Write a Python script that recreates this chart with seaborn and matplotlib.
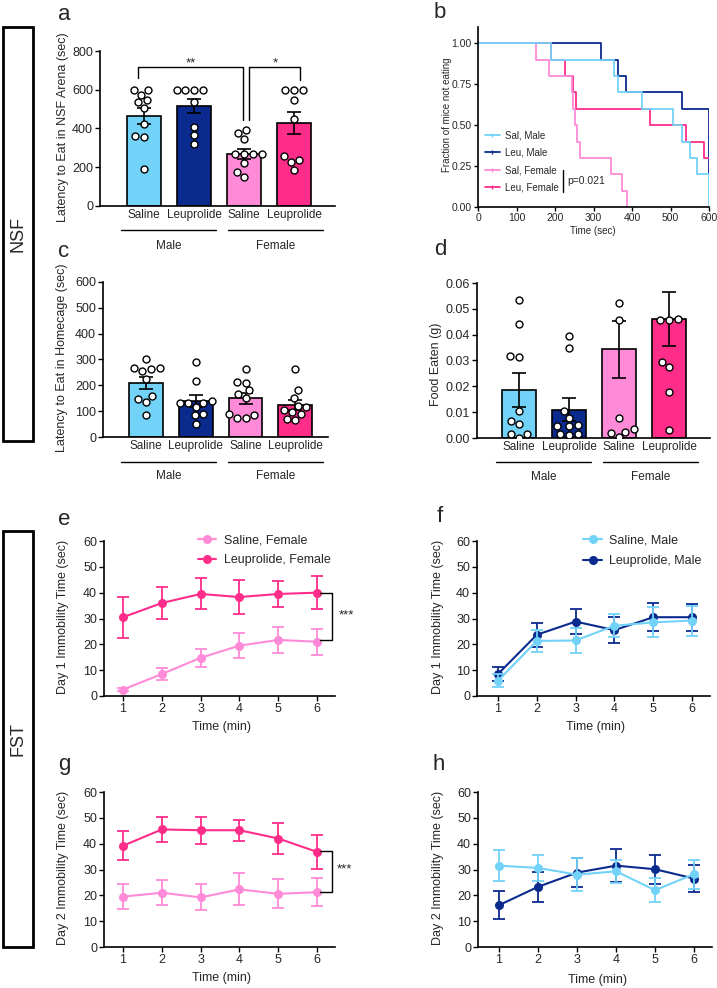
import numpy as np
import pandas as pd
import seaborn as sns
import matplotlib.pyplot as plt
from matplotlib.lines import Line2D
from matplotlib.patches import Rectangle
from matplotlib.ticker import FormatStrFormatter

sns.set_style('ticks')
plt.rcParams['font.family'] = ['Liberation Sans', 'DejaVu Sans']

LBLUE = '#72D2F8'
DBLUE = '#0B2A8E'
PINK = '#FF8AD8'
MAGENTA = '#FF2D8A'

GROUPS = ['SalM', 'LeuM', 'SalF', 'LeuF']
GROUP_COLORS = [LBLUE, DBLUE, PINK, MAGENTA]
BAR_TICKS = ['Saline', 'Leuprolide', 'Saline', 'Leuprolide']

# a - latency to eat in NSF arena
a_means = [465, 518, 270, 428]
a_sem = [43, 36, 25, 56]
a_sal_m = [600, 575, 600, 535, 545, 505, 425, 360, 355, 190]
a_leu_m = [600, 600, 600, 600, 537, 408, 365, 318]
a_sal_f = [390, 377, 348, 267, 267, 267, 267, 222, 175, 150]
a_leu_f = [600, 600, 600, 545, 450, 256, 239, 227, 187]

# b - survival curves (time, fraction not eating)
b_sal_m_t = [0, 190, 352, 363, 427, 507, 531, 550, 570, 600]
b_sal_m_s = [1.0, 0.9, 0.8, 0.7, 0.6, 0.5, 0.4, 0.3, 0.2, 0.0]
b_leu_m_t = [0, 319, 363, 385, 529, 600]
b_leu_m_s = [1.0, 0.9, 0.8, 0.7, 0.6, 0.2]
b_sal_f_t = [0, 151, 184, 243, 248, 252, 258, 264, 345, 373, 388]
b_sal_f_s = [1.0, 0.9, 0.8, 0.7, 0.6, 0.5, 0.4, 0.3, 0.2, 0.1, 0.0]
b_leu_f_t = [0, 190, 226, 248, 254, 447, 539, 586, 600]
b_leu_f_s = [1.0, 0.9, 0.8, 0.7, 0.6, 0.5, 0.4, 0.3, 0.3]

# c - latency to eat in homecage
c_means = [210, 140, 150, 125]
c_sem = [23, 22, 22, 20]
c_sal_m = [300, 268, 262, 268, 255, 226, 148, 135, 158, 87]
c_leu_m = [290, 215, 133, 133, 138, 133, 116, 90, 84, 52]
c_sal_f = [262, 213, 210, 180, 168, 150, 90, 85, 75, 75]
c_leu_f = [265, 180, 150, 120, 115, 105, 95, 90, 70, 65]

# d - food eaten
d_means = [0.0185, 0.011, 0.0343, 0.0462]
d_sem = [0.0065, 0.0045, 0.011, 0.0105]
d_sal_m = [0.0535, 0.044, 0.0318, 0.0313, 0.0105, 0.0065, 0.0055, 0.0015, 0.0015, 0.0001]
d_leu_m = [0.0395, 0.0347, 0.0105, 0.0078, 0.005, 0.0045, 0.0045, 0.0015, 0.0012, 0.0015]
d_sal_f = [0.0522, 0.0458, 0.0078, 0.0035, 0.0025, 0.0018, 0.0003]
d_leu_f = [0.0457, 0.0455, 0.046, 0.0293, 0.0273, 0.018, 0.003]

# e-h - forced swim immobility
minutes = [1, 2, 3, 4, 5, 6]
e_sal_f = [2.5, 8.5, 14.8, 19.5, 21.7, 21.0]
e_sal_f_err = [0.5, 2.3, 3.5, 4.8, 5.0, 5.0]
e_leu_f = [30.5, 36.0, 39.5, 38.3, 39.5, 40.0]
e_leu_f_err = [8.0, 6.3, 6.0, 6.5, 4.9, 6.4]
f_sal_m = [5.9, 21.3, 21.5, 27.2, 28.5, 29.2]
f_sal_m_err = [2.5, 4.3, 4.8, 4.4, 5.8, 5.8]
f_leu_m = [8.5, 23.7, 28.8, 25.5, 30.5, 30.5]
f_leu_m_err = [2.7, 4.6, 4.7, 5.1, 5.5, 5.3]
g_sal_f = [19.5, 21.0, 19.2, 22.3, 20.6, 21.2]
g_sal_f_err = [4.8, 4.8, 5.0, 6.2, 5.6, 5.5]
g_leu_f = [39.2, 45.5, 45.2, 45.2, 42.0, 36.8]
g_leu_f_err = [5.6, 5.0, 5.2, 4.0, 6.0, 6.6]
h_sal_m = [31.5, 30.6, 28.0, 29.3, 22.0, 28.2]
h_sal_m_err = [5.9, 5.2, 6.3, 4.4, 4.7, 5.6]
h_leu_m = [16.2, 23.3, 28.8, 31.5, 30.1, 26.5]
h_leu_m_err = [5.5, 5.8, 5.6, 6.4, 5.7, 5.4]

W, H = 717, 988
fig = plt.figure(figsize=(W / 100, H / 100), dpi=100)


def add_ax(l, t, r, b):
    return fig.add_axes([l / W, 1 - b / H, (r - l) / W, (b - t) / H])


def ftext(x, y, s, **kw):
    fig.text(x / W, 1 - y / H, s, **kw)


def style_ax(ax):
    sns.despine(ax=ax)
    for sp in ['left', 'bottom']:
        ax.spines[sp].set_linewidth(1.2)
        ax.spines[sp].set_color('black')
    ax.tick_params(direction='out', length=3.5, width=1, color='black', labelsize=9, pad=1.5)


def bar_panel(ax, means, sem, pts, ylim, yticks, xlim):
    sns.barplot(x=GROUPS, y=means, hue=GROUPS, palette=GROUP_COLORS, order=GROUPS,
                legend=False, errorbar=None, width=0.68, edgecolor='black', linewidth=1.2,
                saturation=1, ax=ax, zorder=1)
    ax.errorbar(range(4), means, yerr=sem, fmt='none', ecolor='black', elinewidth=1.2,
                capsize=5, capthick=1.2, zorder=3)
    df = pd.DataFrame({'grp': np.repeat(GROUPS, [len(p) for p in pts]),
                       'val': np.concatenate(pts)})
    sns.swarmplot(data=df, x='grp', y='val', order=GROUPS, color='white', edgecolor='black',
                  linewidth=1, size=5, ax=ax, zorder=4)
    style_ax(ax)
    ax.set_xlim(*xlim)
    ax.set_ylim(*ylim)
    ax.set_yticks(yticks)
    ax.set_xticks(range(4))
    ax.set_xticklabels(BAR_TICKS, fontsize=8.5)
    ax.tick_params(axis='x', length=0, pad=2)
    ax.set_xlabel('')
    ax.set_ylabel('')


def group_lines(ax, segs, y_line, y_text):
    trans = ax.get_xaxis_transform()
    for x0, x1, name in segs:
        ax.plot([x0, x1], [y_line, y_line], transform=trans, color='black', lw=1, clip_on=False)
        ax.text((x0 + x1) / 2, y_text, name, transform=trans, ha='center', va='center', fontsize=8.5)


def line_panel(ax, series, xlim):
    for vals, errs, col, lab in series:
        sns.lineplot(x=minutes, y=vals, ax=ax, color=col, marker='o', markersize=6.5,
                     markeredgewidth=0, linewidth=1.5, label=lab)
        ax.errorbar(minutes, vals, yerr=errs, fmt='none', ecolor=col, elinewidth=1.3,
                    capsize=4, capthick=1.3)
    style_ax(ax)
    ax.set_xlim(*xlim)
    ax.set_ylim(0, 60)
    ax.set_yticks(range(0, 61, 10))
    ax.set_xticks(minutes)
    ax.set_xlabel('')
    ax.set_ylabel('')


# ---- a ----
ax_a = add_ax(100, 51, 335, 206)
bar_panel(ax_a, a_means, a_sem, [a_sal_m, a_leu_m, a_sal_f, a_leu_f], (0, 800),
          range(0, 801, 200), (-0.88, 3.82))
group_lines(ax_a, [(-0.46, 1.44, 'Male'), (1.68, 3.58, 'Female')], -0.155, -0.258)
kw = dict(color='black', lw=1, clip_on=False)
ax_a.plot([-0.12, -0.12, 1.97, 1.97], [660, 717, 717, 445], **kw)
ax_a.plot([2.09, 2.09, 3.12, 3.12], [445, 717, 717, 648], **kw)
ax_a.text(0.93, 735, '**', ha='center', va='center', fontsize=9.5)
ax_a.text(2.62, 735, '*', ha='center', va='center', fontsize=9.5)

# ---- b ----
ax_b = add_ax(478, 27, 709, 207)
curves = [(b_leu_m_t, b_leu_m_s, DBLUE), (b_leu_f_t, b_leu_f_s, MAGENTA),
          (b_sal_f_t, b_sal_f_s, PINK), (b_sal_m_t, b_sal_m_s, LBLUE)]
for t, s, col in curves:
    sns.lineplot(x=t, y=s, ax=ax_b, color=col, drawstyle='steps-post', estimator=None,
                 sort=False, linewidth=1.3)
style_ax(ax_b)
ax_b.tick_params(labelsize=7.5, length=3)
ax_b.set_xlim(0, 600)
ax_b.set_ylim(0, 1.1)
ax_b.set_xticks(range(0, 601, 100))
ax_b.set_yticks([0, 0.25, 0.5, 0.75, 1.0])
ax_b.yaxis.set_major_formatter(FormatStrFormatter('%.2f'))
ax_b.set_xlabel('')
ax_b.set_ylabel('')
handles = [Line2D([0], [0], color=c, lw=1.3, marker='|', markersize=3, markeredgewidth=1)
           for c in [LBLUE, DBLUE, PINK, MAGENTA]]
ax_b.legend(handles, ['Sal, Male', 'Leu, Male', 'Sal, Female', 'Leu, Female'],
            loc='upper left', bbox_to_anchor=(0.03, 0.425), frameon=False, fontsize=7,
            handlelength=1.5, handletextpad=0.6, labelspacing=0.75, borderpad=0, borderaxespad=0)
ax_b.plot([221, 221], [0.09, 0.225], color='black', lw=1)
ax_b.text(232, 0.16, 'p=0.021', fontsize=7.5, va='center')

# ---- c ----
ax_c = add_ax(103, 282, 328, 437)
bar_panel(ax_c, c_means, c_sem, [c_sal_m, c_leu_m, c_sal_f, c_leu_f], (0, 600),
          range(0, 601, 100), (-0.87, 3.66))
group_lines(ax_c, [(-0.5, 1.41, 'Male'), (1.65, 3.56, 'Female')], -0.161, -0.252)

# ---- d ----
ax_d = add_ax(477, 283, 710, 438)
bar_panel(ax_d, d_means, d_sem, [d_sal_m, d_leu_m, d_sal_f, d_leu_f], (0, 0.06),
          np.arange(0, 0.061, 0.01), (-0.84, 3.82))
ax_d.yaxis.set_major_formatter(FormatStrFormatter('%.2f'))
group_lines(ax_d, [(-0.46, 1.44, 'Male'), (1.68, 3.58, 'Female')], -0.155, -0.25)

# ---- e ----
ax_e = add_ax(104, 541, 335, 696)
line_panel(ax_e, [(e_sal_f, e_sal_f_err, PINK, 'Saline, Female'),
                  (e_leu_f, e_leu_f_err, MAGENTA, 'Leuprolide, Female')], (0.51, 6.46))
ax_e.legend(loc='upper left', bbox_to_anchor=(0.405, 1.045), frameon=False, fontsize=9,
            handlelength=1.45, handletextpad=0.7, labelspacing=0.65, borderpad=0, borderaxespad=0)
ax_e.plot([6.08, 6.39, 6.39, 6.08], [40, 40, 21.5, 21.5], color='black', lw=1, clip_on=False)
ax_e.text(6.55, 31, '***', fontsize=9.5, va='center', ha='left')

# ---- f ----
ax_f = add_ax(477, 541, 710, 696)
line_panel(ax_f, [(f_leu_m, f_leu_m_err, DBLUE, 'Leuprolide, Male'),
                  (f_sal_m, f_sal_m_err, LBLUE, 'Saline, Male')], (0.46, 6.46))
hl, ll = ax_f.get_legend_handles_labels()
ax_f.legend(hl[::-1], ll[::-1], loc='upper left', bbox_to_anchor=(0.455, 1.04), frameon=False,
            fontsize=9, handlelength=1.55, handletextpad=0.55, labelspacing=0.65, borderpad=0,
            borderaxespad=0)

# ---- g ----
ax_g = add_ax(104, 792, 335, 947)
line_panel(ax_g, [(g_sal_f, g_sal_f_err, PINK, None),
                  (g_leu_f, g_leu_f_err, MAGENTA, None)], (0.51, 6.46))
ax_g.plot([6.08, 6.39, 6.39, 6.08], [37, 37, 21.4, 21.4], color='black', lw=1, clip_on=False)
ax_g.text(6.5, 30, '***', fontsize=9.5, va='center', ha='left')

# ---- h ----
ax_h = add_ax(478, 792, 712, 947)
line_panel(ax_h, [(h_leu_m, h_leu_m_err, DBLUE, None),
                  (h_sal_m, h_sal_m_err, LBLUE, None)], (0.46, 6.46))

for ax in [ax_g, ax_h]:
    if ax.get_legend() is not None:
        ax.get_legend().remove()

# axis labels
ylab = dict(rotation=90, ha='center', va='center', fontsize=9)
ftext(63, 127, 'Latency to Eat in NSF Arena (sec)', **ylab)
ftext(62, 358, 'Latency to Eat in Homecage (sec)', **ylab)
ftext(436, 364, 'Food Eaten (g)', **ylab)
ftext(447, 115, 'Fraction of mice not eating', rotation=90, ha='center', va='center', fontsize=7)
ftext(593, 231, 'Time (sec)', ha='center', va='center', fontsize=7)
ftext(63, 617, 'Day 1 Immobility Time (sec)', **ylab)
ftext(438, 617, 'Day 1 Immobility Time (sec)', **ylab)
ftext(63, 868, 'Day 2 Immobility Time (sec)', **ylab)
ftext(438, 868, 'Day 2 Immobility Time (sec)', **ylab)
xlab = dict(ha='center', va='center', fontsize=9)
ftext(221, 727, 'Time (min)', **xlab)
ftext(595, 727, 'Time (min)', **xlab)
ftext(221, 978, 'Time (min)', **xlab)
ftext(597, 980, 'Time (min)', **xlab)

# panel letters
for x, y, s in [(58, 20, 'a'), (434, 18, 'b'), (58, 257, 'c'), (434, 255, 'd'),
                (58, 525, 'e'), (437, 522, 'f'), (58, 770, 'g'), (433, 770, 'h')]:
    ftext(x, y, s, ha='left', va='baseline', fontsize=16)

# section boxes
for top, bot, name in [(27, 441, 'NSF'), (531, 947, 'FST')]:
    fig.patches.append(Rectangle((3 / W, 1 - bot / H), 30 / W, (bot - top) / H,
                                 transform=fig.transFigure, fill=False, lw=2, ec='black'))
    ftext(18, (top + bot) / 2, name, rotation=90, ha='center', va='center', fontsize=13)

fig.savefig('out.png', dpi=100)
